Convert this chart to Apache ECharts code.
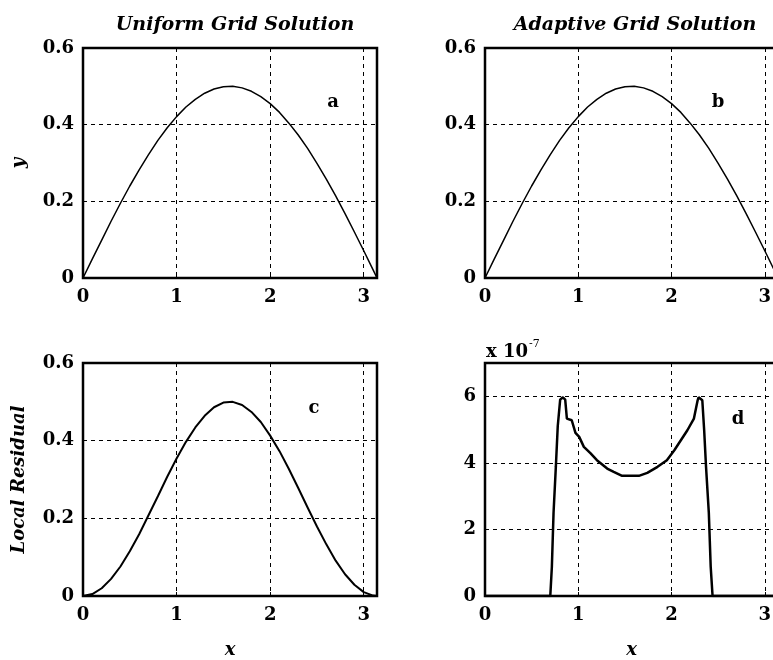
<!DOCTYPE html>
<html>
<head>
<meta charset="utf-8">
<script src="https://cdn.jsdelivr.net/npm/echarts@6/dist/echarts.min.js"></script>
<style>
  html, body { margin: 0; padding: 0; background: #fff; }
  #chart { width: 773px; height: 660px; }
</style>
</head>
<body>
<div id="chart"></div>
<script>
// x samples for the smooth curves (0 .. pi)
const xSmooth = [0, 0.1, 0.2, 0.3, 0.4, 0.5, 0.6, 0.7, 0.8, 0.9, 1.0, 1.1, 1.2, 1.3, 1.4, 1.5,
  1.6, 1.7, 1.8, 1.9, 2.0, 2.1, 2.2, 2.3, 2.4, 2.5, 2.6, 2.7, 2.8, 2.9, 3.0, 3.1, 3.1416];

// a: uniform grid solution
const yUniform = [0, 0.050, 0.099, 0.148, 0.195, 0.240, 0.282, 0.322, 0.359, 0.392, 0.421, 0.446, 0.466,
  0.482, 0.493, 0.499, 0.500, 0.496, 0.487, 0.473, 0.455, 0.432, 0.404, 0.373, 0.338, 0.299, 0.258,
  0.214, 0.168, 0.120, 0.071, 0.021, 0];

// b: adaptive grid solution
const yAdaptive = [0, 0.050, 0.099, 0.148, 0.195, 0.240, 0.282, 0.322, 0.359, 0.392, 0.421, 0.446, 0.466,
  0.482, 0.493, 0.499, 0.500, 0.496, 0.487, 0.473, 0.455, 0.432, 0.404, 0.373, 0.338, 0.299, 0.258,
  0.214, 0.168, 0.120, 0.071, 0.021, 0];

// c: local residual, uniform grid
const resUniform = [0, 0.005, 0.020, 0.044, 0.076, 0.115, 0.159, 0.208, 0.257, 0.307, 0.354, 0.397, 0.434,
  0.464, 0.486, 0.498, 0.500, 0.492, 0.474, 0.448, 0.413, 0.373, 0.327, 0.278, 0.228, 0.179, 0.133,
  0.091, 0.056, 0.029, 0.010, 0.001, 0];

// d: local residual, adaptive grid (values in units of 1e-7)
const xAdaptRes = [0, 0.70, 0.717, 0.735, 0.76, 0.78, 0.806, 0.835, 0.86, 0.878, 0.93, 0.97, 1.01, 1.06, 1.13,
  1.2, 1.31, 1.38, 1.47, 1.65, 1.74, 1.85, 1.95, 2.03, 2.1, 2.17, 2.24, 2.28, 2.29, 2.33, 2.35, 2.37,
  2.40, 2.42, 2.44, 3.1416];
const resAdaptive = [0, 0, 0.88, 2.5, 3.9, 5.1, 5.9, 5.97, 5.9, 5.33, 5.28, 4.9, 4.78, 4.48, 4.29,
  4.08, 3.83, 3.73, 3.61, 3.61, 3.70, 3.88, 4.08, 4.38, 4.68, 4.98, 5.33, 5.88, 5.97, 5.88, 4.98, 3.88,
  2.49, 0.88, 0, 0];

const xTicks = [0, 1, 2, 3];

const FONT = '"DejaVu Serif", "Liberation Serif", serif';
const pairs = (xs, ys) => xs.map((x, i) => [x, ys[i]]);

const grids = [
  { left: 83, top: 48, width: 294, height: 230 },
  { left: 485, top: 48, width: 293, height: 230 },
  { left: 83, top: 363, width: 294, height: 233 },
  { left: 485, top: 363, width: 293, height: 233 },
].map(g => ({
  ...g, show: true, borderColor: '#000', borderWidth: 2.5, backgroundColor: 'transparent',
  containLabel: false, outerBoundsMode: 'none',
}));

const splitLine = { show: true, lineStyle: { color: '#000', width: 1, type: [4, 4] } };
const labelStyle = { color: '#000', fontFamily: FONT, fontWeight: 'bold', fontSize: 18 };
const nameStyle = { color: '#000', fontFamily: FONT, fontWeight: 'bold', fontStyle: 'italic', fontSize: 18 };

function xAxis(i, name) {
  return {
    type: 'value', gridIndex: i, min: 0, max: 3.1416, interval: 1,
    axisLine: { show: false },
    axisTick: { show: true, inside: true, length: 4, lineStyle: { color: '#000' } },
    axisLabel: { ...labelStyle, margin: 10, formatter: v => (xTicks.includes(v) ? String(v) : '') },
    splitLine,
    name, nameLocation: 'middle', nameGap: 45, nameTextStyle: nameStyle,
  };
}

function yAxis(i, max, interval, name, ticks) {
  return {
    type: 'value', gridIndex: i, min: 0, max, interval,
    axisLine: { show: false },
    axisTick: { show: true, inside: true, length: 4, lineStyle: { color: '#000' } },
    axisLabel: { ...labelStyle, margin: 9, formatter: v => (ticks.includes(v) ? String(v) : '') },
    splitLine,
    name, nameLocation: 'middle', nameGap: 55, nameTextStyle: nameStyle,
  };
}

const line = (i, data, width) => ({
  type: 'line', xAxisIndex: i, yAxisIndex: i, data, symbol: 'none',
  lineStyle: { color: '#000', width }, silent: true, animation: false,
});

const txt = (text, left, top, style) => ({
  text, left, top, textAlign: 'center',
  textStyle: { color: '#000', fontFamily: FONT, fontSize: 18, fontWeight: 'bold', ...style },
});

const option = {
  animation: false,
  title: [
    txt('Uniform Grid Solution', 230, 11, { fontStyle: 'italic', fontSize: 19 }),
    txt('Adaptive Grid Solution', 630, 11, { fontStyle: 'italic', fontSize: 19 }),
    txt('a', 328, 88, {}),
    txt('b', 713, 88, {}),
    txt('c', 309, 394, {}),
    txt('d', 733, 405, {}),
    {
      text: '{m|x 10}{s|-7}', left: 481, top: 334,
      textStyle: {
        rich: {
          m: { color: '#000', fontFamily: FONT, fontWeight: 'bold', fontSize: 18, verticalAlign: 'bottom', lineHeight: 22 },
          s: { color: '#000', fontFamily: FONT, fontWeight: 'normal', fontSize: 11, verticalAlign: 'top', lineHeight: 22, padding: [0, 0, 10, 1] },
        },
      },
    },
  ],
  grid: grids,
  xAxis: [xAxis(0, ''), xAxis(1, ''), xAxis(2, 'x'), xAxis(3, 'x')],
  yAxis: [
    yAxis(0, 0.6, 0.2, 'y', [0, 0.2, 0.4, 0.6]),
    yAxis(1, 0.6, 0.2, '', [0, 0.2, 0.4, 0.6]),
    yAxis(2, 0.6, 0.2, 'Local Residual', [0, 0.2, 0.4, 0.6]),
    yAxis(3, 7, 2, '', [0, 2, 4, 6]),
  ],
  series: [
    line(0, pairs(xSmooth, yUniform), 1.5),
    line(1, pairs(xSmooth, yAdaptive), 1.5),
    line(2, pairs(xSmooth, resUniform), 2),
    line(3, pairs(xAdaptRes, resAdaptive), 2.5),
  ],
};

const chart = echarts.init(document.getElementById('chart'), null, { renderer: 'canvas' });
chart.setOption(option);
</script>
</body>
</html>
